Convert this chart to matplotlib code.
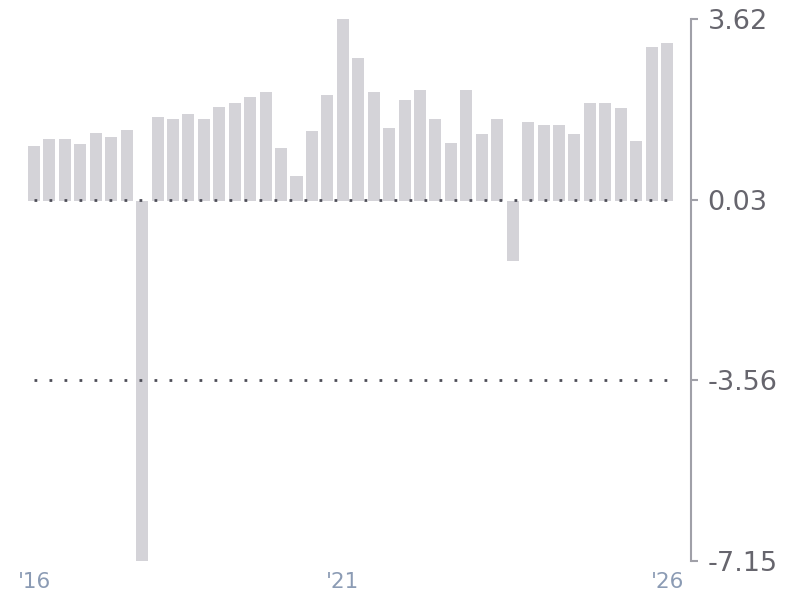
import matplotlib.pyplot as plt
import numpy as np

values = [1.10, 1.24, 1.24, 1.14, 1.36, 1.28, 1.42, -7.15,
          1.68, 1.64, 1.74, 1.64, 1.88, 1.96, 2.08, 2.16,
          1.06, 0.51, 1.40, 2.10, 3.62, 2.85, 2.16, 1.46,
          2.02, 2.20, 1.64, 1.16, 2.20, 1.34, 1.64, -1.18,
          1.58, 1.52, 1.52, 1.34, 1.96, 1.96, 1.86, 1.20,
          3.07, 3.15]
y_ticks = [3.62, 0.03, -3.56, -7.15]
ref_lines = [0.03, -3.56]
x_tick_pos = [0, 20, 41]
x_tick_labels = ["'16", "'21", "'26"]

fig = plt.figure(figsize=(8, 6), dpi=100)
ax = fig.add_axes([28 / 800, 1 - 561 / 600, (691 - 28) / 800, (561 - 19) / 600])

x = np.arange(len(values))
ax.bar(x, values, width=0.78, color='#d4d3d8', zorder=1)

for yv in ref_lines:
    ax.plot([0, 41], [yv, yv], color='#4e4e58', linewidth=2.0,
            linestyle=(0, (1, 4.4)), dash_capstyle='butt', zorder=3)

ax.set_xlim(-0.39, 42.55)
ax.set_ylim(-7.15, 3.62)

for s in ['left', 'top', 'bottom']:
    ax.spines[s].set_visible(False)
ax.spines['right'].set_color('#a0a0a8')
ax.spines['right'].set_linewidth(1.5)

ax.yaxis.tick_right()
ax.set_yticks(y_ticks)
ax.set_yticklabels([f'{v:.2f}' for v in y_ticks])
ax.tick_params(axis='y', length=5, width=1.5, color='#a0a0a8', pad=7,
               labelsize=19.5, labelcolor='#66656d')

ax.set_xticks(x_tick_pos)
ax.set_xticklabels(x_tick_labels)
ax.tick_params(axis='x', length=0, pad=8, labelsize=15.5, labelcolor='#8b9bb4')

plt.savefig('out.png', dpi=100)
plt.close()
